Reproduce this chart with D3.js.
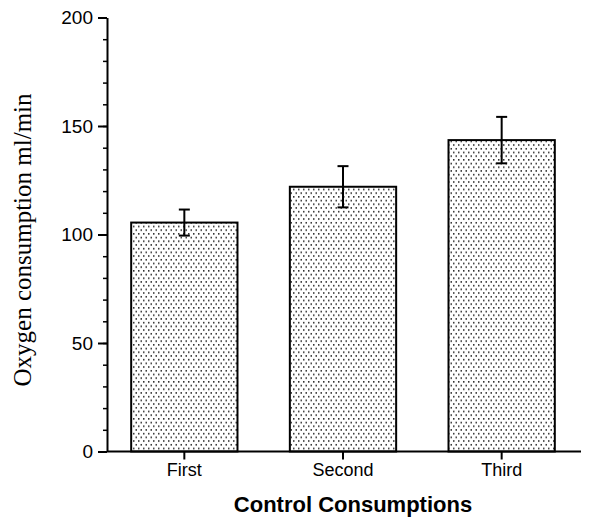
<!DOCTYPE html>
<html>
<head>
<meta charset="utf-8">
<script src="https://cdn.jsdelivr.net/npm/d3@7"></script>
<style>
  body { margin: 0; background: #fff; }
  svg { display: block; }
</style>
</head>
<body>
<div id="chart"></div>
<script>
// chart values
const categories = ["First", "Second", "Third"];
const means = [105.5, 122, 143.5];
const errors = [6, 9.5, 10.7];
const yTicks = [0, 50, 100, 150, 200];

const W = 612, H = 518;
const margin = { top: 17.5, left: 107, right: 31, bottom: 66.5 };
const width = W - margin.left - margin.right,
  height = H - margin.top - margin.bottom;

const svg = d3.select("#chart").append("svg")
  .attr("width", W).attr("height", H);

// stipple fill for the bars
const pat = svg.append("defs").append("pattern")
  .attr("id", "dots")
  .attr("patternUnits", "userSpaceOnUse")
  .attr("width", 5).attr("height", 7.4);
pat.append("rect").attr("x", 1).attr("y", 1).attr("width", 1.5).attr("height", 1.5).attr("fill", "#222");
pat.append("rect").attr("x", 3.5).attr("y", 4.7).attr("width", 1.5).attr("height", 1.5).attr("fill", "#222");

const g = svg.append("g")
  .attr("transform", "translate(" + margin.left + "," + margin.top + ")");

const x = d3.scaleBand()
  .domain(categories)
  .range([-2, width])
  .paddingInner(0.33)
  .paddingOuter(0.165);

const y = d3.scaleLinear()
  .domain([0, 200])
  .range([height, 0]);

// bars
g.selectAll("rect.bar")
  .data(means)
  .enter().append("rect")
  .attr("class", "bar")
  .attr("x", (d, i) => x(categories[i]))
  .attr("y", d => y(d))
  .attr("width", x.bandwidth())
  .attr("height", d => y(0) - y(d))
  .attr("fill", "url(#dots)")
  .attr("stroke", "#000")
  .attr("stroke-width", 2);

// error bars
const capW = 11;
const eb = g.selectAll("g.err")
  .data(means)
  .enter().append("g")
  .attr("class", "err")
  .attr("transform", (d, i) => "translate(" + (x(categories[i]) + x.bandwidth() / 2) + ",0)");
eb.append("line")
  .attr("y1", (d, i) => y(d + errors[i]))
  .attr("y2", (d, i) => y(d - errors[i]))
  .attr("stroke", "#000").attr("stroke-width", 2);
eb.append("line")
  .attr("x1", -capW / 2).attr("x2", capW / 2)
  .attr("y1", (d, i) => y(d + errors[i]))
  .attr("y2", (d, i) => y(d + errors[i]))
  .attr("stroke", "#000").attr("stroke-width", 2);
eb.append("line")
  .attr("x1", -capW / 2).attr("x2", capW / 2)
  .attr("y1", (d, i) => y(d - errors[i]))
  .attr("y2", (d, i) => y(d - errors[i]))
  .attr("stroke", "#000").attr("stroke-width", 2);

// y axis, minor ticks then major ticks
g.append("g")
  .call(d3.axisLeft(y).tickValues(d3.range(0, 201, 10)).tickSize(4).tickFormat(""))
  .call(a => a.select(".domain").remove())
  .selectAll("line").attr("stroke-width", 1.5);

const yAxis = g.append("g")
  .call(d3.axisLeft(y).tickValues(yTicks).tickSize(9).tickSizeOuter(0).tickPadding(5));
yAxis.select(".domain").attr("stroke-width", 2);
yAxis.selectAll("line").attr("stroke-width", 2);
yAxis.selectAll("text")
  .attr("font-family", "Liberation Sans, Arial, sans-serif")
  .attr("font-size", 19)
  .attr("fill", "#000");

// x axis
const xAxis = g.append("g")
  .attr("transform", "translate(0," + height + ")")
  .call(d3.axisBottom(x).tickSize(8).tickSizeOuter(0).tickPadding(4));
xAxis.select(".domain").attr("stroke-width", 2).attr("d", "M0,0H" + width);
xAxis.selectAll("line").attr("stroke-width", 2);
xAxis.selectAll("text")
  .attr("font-family", "Liberation Sans, Arial, sans-serif")
  .attr("font-size", 18)
  .attr("fill", "#000");

// axis titles
svg.append("text")
  .attr("x", 353).attr("y", 512)
  .attr("text-anchor", "middle")
  .attr("font-family", "Liberation Sans, Arial, sans-serif")
  .attr("font-weight", "bold")
  .attr("font-size", 22)
  .text("Control Consumptions");

svg.append("text")
  .attr("transform", "translate(31,240) rotate(-90)")
  .attr("text-anchor", "middle")
  .attr("font-family", "Liberation Serif, Times New Roman, serif")
  .attr("font-size", 25)
  .text("Oxygen consumption ml/min");
</script>
</body>
</html>
